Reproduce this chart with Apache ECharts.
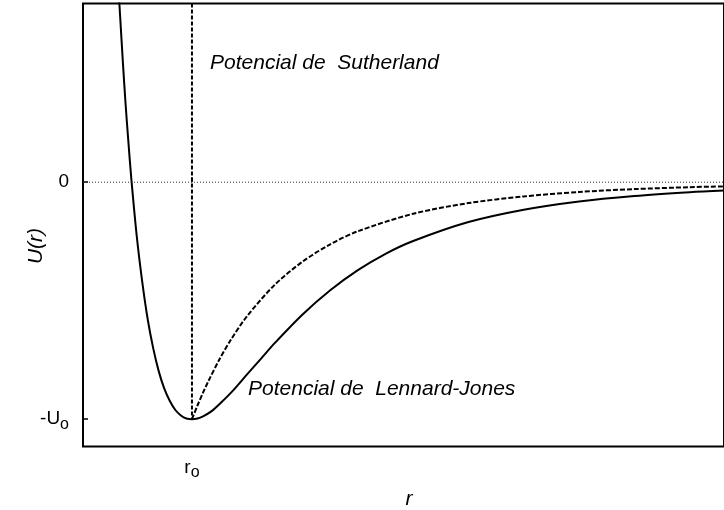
<!DOCTYPE html>
<html>
<head>
<meta charset="utf-8">
<script src="https://cdn.jsdelivr.net/npm/echarts@6/dist/echarts.min.js"></script>
<style>
  html, body { margin: 0; padding: 0; background: #fff; }
  #chart { width: 724px; height: 510px; }
</style>
</head>
<body>
<div id="chart"></div>
<script>
// r in units of r_o, U in units of U_o
const rMin = 0.803, rMax = 1.962;
const uMin = -1.115, uMax = 0.754;

// Lennard-Jones curve
const ljR = [0.862, 0.866, 0.87, 0.875, 0.88, 0.885, 0.89, 0.90, 0.91, 0.92, 0.93, 0.94, 0.95, 0.96, 0.97, 0.98, 0.99, 1.0, 1.01, 1.02, 1.035, 1.05, 1.075, 1.1, 1.125, 1.15, 1.2, 1.25, 1.3, 1.35, 1.4, 1.5, 1.6, 1.7, 1.8, 1.9, 1.962];
const ljU = [1.05, 0.86, 0.706, 0.51, 0.33, 0.172, 0.025, -0.223, -0.418, -0.578, -0.701, -0.798, -0.871, -0.923, -0.961, -0.984, -0.997, -1.0, -0.997, -0.988, -0.967, -0.936, -0.877, -0.810, -0.744, -0.678, -0.558, -0.456, -0.371, -0.302, -0.248, -0.168, -0.116, -0.081, -0.058, -0.042, -0.035];

// Sutherland: hard wall at r_o, then attractive tail
const wallR = [1.0, 1.0];
const wallU = [uMax, -1.0];
const suR = [1.0, 1.01, 1.02, 1.03, 1.05, 1.07, 1.1, 1.15, 1.2, 1.25, 1.3, 1.4, 1.5, 1.6, 1.7, 1.8, 1.9, 1.962];
const suU = [-1.0, -0.942, -0.888, -0.838, -0.746, -0.666, -0.564, -0.432, -0.335, -0.262, -0.207, -0.133, -0.088, -0.060, -0.041, -0.029, -0.021, -0.0175];

// Axis marks
const xTicks = [1.0];
const xTickLabels = ['r_o'];
const yTicks = [0, -1.0];
const yTickLabels = ['0', '-U_o'];

const pairs = (xs, ys) => xs.map((x, i) => [x, ys[i]]);
const FONT = '"Liberation Sans", Arial, sans-serif';

const sub = {
  base: { fontSize: 19, fontFamily: FONT, color: '#000' },
  sub: { fontSize: 16, fontFamily: FONT, color: '#000', padding: [10, 0, 0, 0] }
};
const fmtLabel = (v, values, labels) => {
  let idx = values.findIndex(t => Math.abs(t - v) < 1e-6);
  if (idx < 0) return '';
  const s = labels[idx];
  if (s.indexOf('_') >= 0) {
    const [a, b] = s.split('_');
    return '{base|' + a + '}{sub|' + b + '}';
  }
  return '{base|' + s + '}';
};

const chart = echarts.init(document.getElementById('chart'), null, { renderer: 'canvas' });
chart.setOption({
  backgroundColor: '#fff',
  animation: false,
  grid: {
    left: 83, right: -3, top: 3.5, bottom: 63.5,
    show: true, borderColor: '#000', borderWidth: 2, backgroundColor: 'transparent'
  },
  xAxis: {
    type: 'value', min: rMin, max: rMax,
    splitLine: { show: false },
    axisLine: { show: false },
    axisTick: { show: true, inside: true, length: 5, customValues: xTicks, lineStyle: { color: '#000', width: 1.5 } },
    axisLabel: {
      customValues: xTicks, margin: 8,
      formatter: v => fmtLabel(v, xTicks, xTickLabels),
      rich: sub
    }
  },
  yAxis: {
    type: 'value', min: uMin, max: uMax,
    splitLine: { show: false },
    axisLine: { show: false },
    axisTick: { show: true, inside: true, length: 5, customValues: yTicks, lineStyle: { color: '#000', width: 1.5 } },
    axisLabel: {
      customValues: yTicks, margin: 14,
      formatter: v => fmtLabel(v, yTicks, yTickLabels),
      rich: sub
    }
  },
  series: [
    {
      name: 'zero', type: 'line', silent: true, symbol: 'none',
      data: [[rMin, 0], [rMax, 0]],
      lineStyle: { color: '#333', width: 1, type: [1, 2] }, z: 1
    },
    {
      name: 'Sutherland wall', type: 'line', silent: true, symbol: 'none',
      data: pairs(wallR, wallU),
      lineStyle: { color: '#000', width: 2, type: [4, 2] }, z: 2
    },
    {
      name: 'Sutherland', type: 'line', silent: true, symbol: 'none', smooth: 0.3,
      data: pairs(suR, suU),
      lineStyle: { color: '#000', width: 2, type: [5, 2] }, z: 2
    },
    {
      name: 'Lennard-Jones', type: 'line', silent: true, symbol: 'none', smooth: 0.3,
      data: pairs(ljR, ljU),
      lineStyle: { color: '#000', width: 2 }, z: 3
    }
  ],
  graphic: [
    {
      type: 'text', x: 210, y: 63,
      style: { text: 'Potencial de  Sutherland', font: 'italic 21px ' + FONT, fill: '#000', verticalAlign: 'middle' }
    },
    {
      type: 'text', x: 248, y: 389,
      style: { text: 'Potencial de  Lennard-Jones', font: 'italic 21px ' + FONT, fill: '#000', verticalAlign: 'middle' }
    },
    {
      type: 'text', x: 36, y: 246, rotation: Math.PI / 2,
      style: { text: 'U(r)', font: 'italic 21px ' + FONT, fill: '#000', align: 'center', verticalAlign: 'middle' }
    },
    {
      type: 'text', x: 409, y: 499,
      style: { text: 'r', font: 'italic 21px ' + FONT, fill: '#000', align: 'center', verticalAlign: 'middle' }
    }
  ]
});
</script>
</body>
</html>
